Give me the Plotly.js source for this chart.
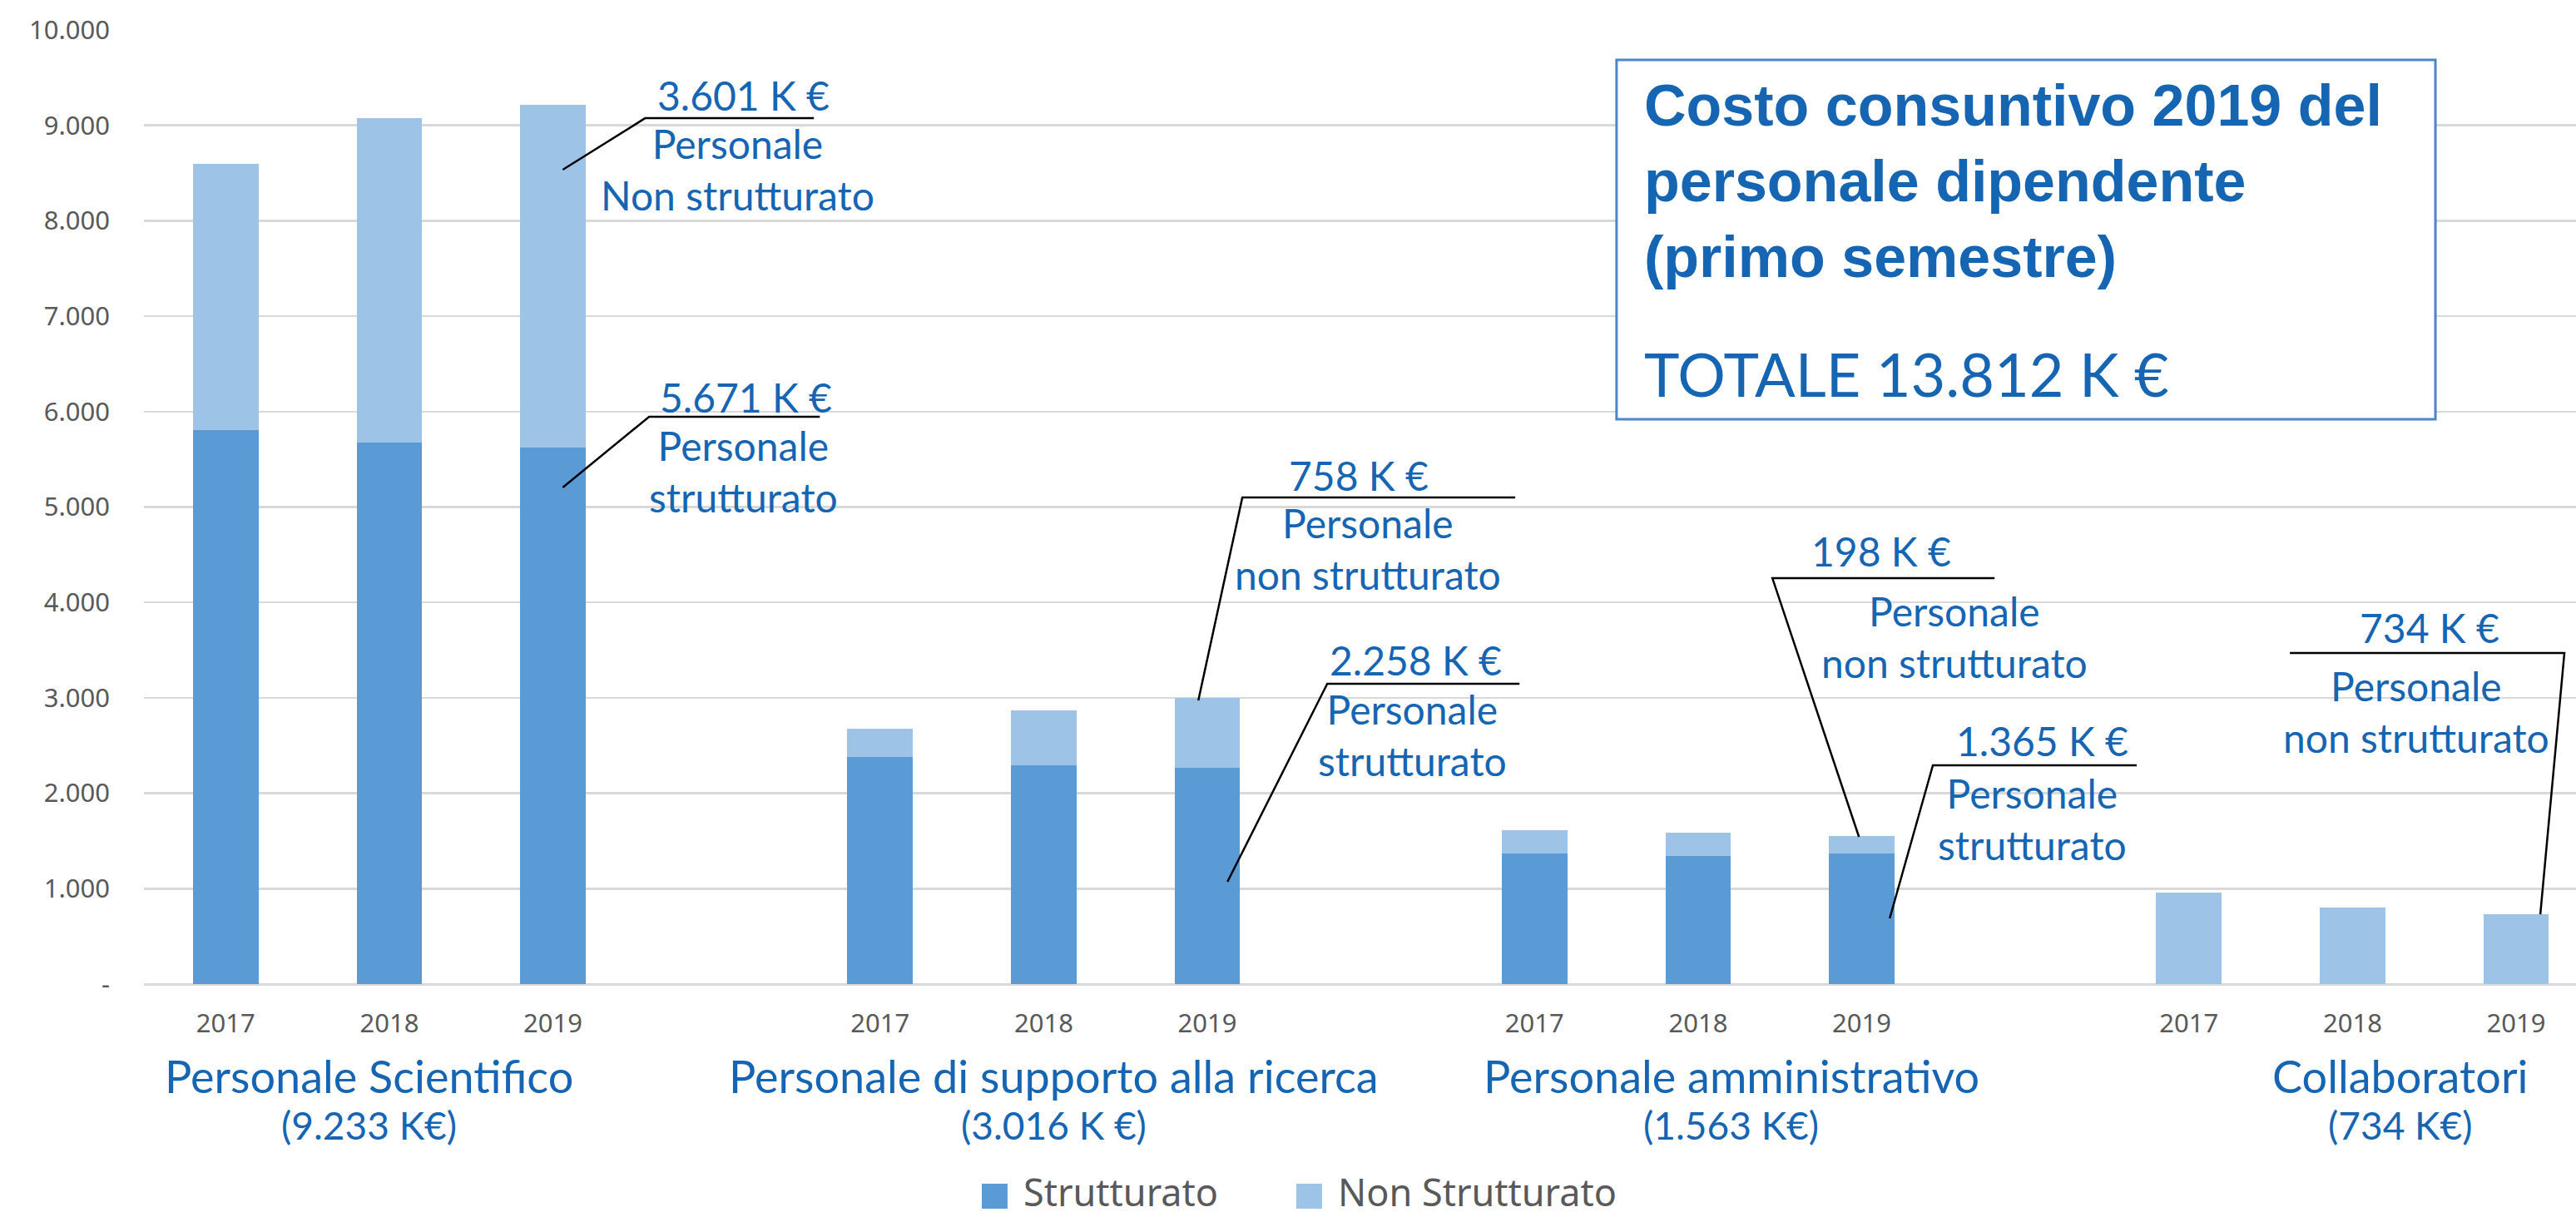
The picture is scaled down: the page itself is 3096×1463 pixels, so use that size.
<!DOCTYPE html>
<html>
<head>
<meta charset="utf-8">
<script src="https://cdn.plot.ly/plotly-3.0.1.min.js"></script>
<style>
    html, body { margin: 0; padding: 0; background: #ffffff; }
    #chart { width: 3096px; height: 1463px; }
</style>
</head>
<body>
<div id="chart"></div>
<script>
// --- dati (K €) ---------------------------------------------------------------
const years = ['2017', '2018', '2019'];
const groups = ['Personale Scientifico', 'Personale di supporto alla ricerca', 'Personale amministrativo', 'Collaboratori'];
const groupTotals = ['(9.233 K€)', '(3.016 K €)', '(1.563 K€)', '(734 K€)'];

// un valore per barra, gruppo dopo gruppo (2017, 2018, 2019)
const strutturato    = [5810, 5675, 5620,  2380, 2295, 2265,  1370, 1345, 1370,  0, 0, 0];
const nonStrutturato = [2785, 3405, 3595,   297,  575,  735,   245,  243,  183,  959, 802, 732];

const yTickValues = [0, 1000, 2000, 3000, 4000, 5000, 6000, 7000, 8000, 9000, 10000];
const yTickLabels = ['-', '1.000', '2.000', '3.000', '4.000', '5.000', '6.000', '7.000', '8.000', '9.000', '10.000'];

const seriesNames = ['Strutturato', 'Non Strutturato'];

// --- stile ----------------------------------------------------------------------
const colors = {
    strutturato: '#5b9bd5',
    nonStrutturato: '#9dc3e6',
    text: '#1565b3',
    axis: '#595959',
    grid: '#d9d9d9',
    box: '#4a86c8'
};
const seriesColors = [colors.strutturato, colors.nonStrutturato];

// richiami: testo del valore, testo descrittivo, sottolineatura e linea guida verso la barra
const callouts = [
    { value: '3.601 K €', body: 'Personale<br>Non strutturato', vx: 3.163, vy: 9320, bx: 3.128, by: 8544, ly: 9075, lx0: 2.563, lx1: 3.595, tx: 2.060, ty: 8535, from: 'left' },
    { value: '5.671 K €', body: 'Personale<br>strutturato', vx: 3.178, vy: 6155, bx: 3.163, by: 5379, ly: 5946, lx0: 2.588, lx1: 3.631, tx: 2.060, ty: 5205, from: 'left' },
    { value: '758 K €', body: 'Personale<br>non strutturato', vx: 6.926, vy: 5327, bx: 6.982, by: 4568, ly: 5100, lx0: 6.214, lx1: 7.882, tx: 5.945, ty: 2973, from: 'left' },
    { value: '2.258 K €', body: 'Personale<br>strutturato', vx: 7.272, vy: 3400, bx: 7.252, by: 2615, ly: 3147, lx0: 6.733, lx1: 7.908, tx: 6.123, ty: 1072, from: 'left' },
    { value: '198 K €', body: 'Personale<br>non strutturato', vx: 10.120, vy: 4542, bx: 10.568, by: 3644, ly: 4254, lx0: 9.454, lx1: 10.812, tx: 9.983, ty: 1543, from: 'left' },
    { value: '1.365 K €', body: 'Personale<br>strutturato', vx: 11.102, vy: 2546, bx: 11.041, by: 1735, ly: 2293, lx0: 10.435, lx1: 11.681, tx: 10.171, ty: 689, from: 'left' },
    { value: '734 K €', body: 'Personale<br>non strutturato', vx: 13.471, vy: 3740, bx: 13.390, by: 2851, ly: 3470, lx0: 12.617, lx1: 14.295, tx: 14.148, ty: 732, from: 'right' }
];

// spostamento orizzontale (px) delle etichette di gruppo rispetto al centro del gruppo
const groupLabelShift = [-24, 12, 40, 58];

// legenda in basso (coordinate paper): quadrato e testo di ogni voce
const legendBoxX = [[0.3445, 0.3551], [0.4738, 0.4844]];
const legendBoxY = [-0.2354, -0.2092];
const legendTextX = [0.3609, 0.4903];
const legendTextY = -0.2171;

// --- posizioni delle barre: una colonna vuota tra un gruppo e l'altro --------
const slotsPerGroup = years.length + 1;
const xPos = [];
const xText = [];
groups.forEach((g, gi) => {
    years.forEach((y, yi) => {
        xPos.push(gi * slotsPerGroup + yi);
        xText.push(y);
    });
});

const traces = [
    {
        type: 'bar',
        name: seriesNames[0],
        x: xPos,
        y: strutturato,
        width: 0.4,
        marker: { color: seriesColors[0] },
        hoverinfo: 'skip'
    },
    {
        type: 'bar',
        name: seriesNames[1],
        x: xPos,
        y: nonStrutturato,
        width: 0.4,
        marker: { color: seriesColors[1] },
        hoverinfo: 'skip'
    }
];

const annotations = [];
const shapes = [];

// etichette dei gruppi sotto l'asse
groups.forEach((g, gi) => {
    const center = gi * slotsPerGroup + (years.length - 1) / 2;
    annotations.push({
        xref: 'x', yref: 'paper', x: center, y: -0.096,
        xshift: groupLabelShift[gi],
        text: g, showarrow: false, xanchor: 'center', yanchor: 'middle',
        font: { family: 'Lato', size: 54, color: colors.text }
    });
    annotations.push({
        xref: 'x', yref: 'paper', x: center, y: -0.148,
        xshift: groupLabelShift[gi],
        text: groupTotals[gi], showarrow: false, xanchor: 'center', yanchor: 'middle',
        font: { family: 'Lato', size: 46, color: colors.text }
    });
});

// richiami con sottolineatura e linea guida
callouts.forEach(c => {
    annotations.push({
        xref: 'x', yref: 'y', x: c.vx, y: c.vy, text: c.value, showarrow: false,
        xanchor: 'center', yanchor: 'middle',
        font: { family: 'Lato', size: 48, color: colors.text }
    });
    annotations.push({
        xref: 'x', yref: 'y', x: c.bx, y: c.by, text: c.body, showarrow: false,
        xanchor: 'center', yanchor: 'middle',
        font: { family: 'Lato', size: 48, color: colors.text }
    });
    const start = c.from === 'left' ? c.lx0 : c.lx1;
    const other = c.from === 'left' ? c.lx1 : c.lx0;
    shapes.push({
        type: 'path', xref: 'x', yref: 'y',
        path: `M${other},${c.ly} L${start},${c.ly} L${c.tx},${c.ty}`,
        line: { color: '#000000', width: 2.5 }
    });
});

// legenda: quadrato colorato + nome della serie
seriesNames.forEach((name, i) => {
    shapes.push({
        type: 'rect', xref: 'paper', yref: 'paper',
        x0: legendBoxX[i][0], x1: legendBoxX[i][1], y0: legendBoxY[0], y1: legendBoxY[1],
        fillcolor: seriesColors[i], line: { width: 0 }
    });
    annotations.push({
        xref: 'paper', yref: 'paper', x: legendTextX[i], y: legendTextY,
        text: name, showarrow: false, xanchor: 'left', yanchor: 'middle',
        font: { family: 'Noto Sans, sans-serif', size: 45, color: colors.axis }
    });
});

// riquadro con il totale
shapes.push({
    type: 'rect', xref: 'paper', yref: 'paper',
    x0: 0.6055, x1: 0.9422, y0: 0.592, y1: 0.9686,
    fillcolor: '#ffffff', line: { color: colors.box, width: 3 },
    layer: 'above'
});
annotations.push({
    xref: 'paper', yref: 'paper', x: 0.6161, y: 0.8413,
    text: '<b>Costo consuntivo 2019 del<br>personale dipendente<br>(primo semestre)</b>',
    showarrow: false, xanchor: 'left', yanchor: 'middle', align: 'left',
    font: { family: 'Liberation Sans, Arial, sans-serif', size: 70, color: colors.text }
});
annotations.push({
    xref: 'paper', yref: 'paper', x: 0.6161, y: 0.6400,
    text: 'TOTALE 13.812 K €',
    showarrow: false, xanchor: 'left', yanchor: 'middle', align: 'left',
    font: { family: 'Lato', size: 72, color: colors.text }
});

const layout = {
    width: 3096,
    height: 1463,
    paper_bgcolor: '#ffffff',
    plot_bgcolor: '#ffffff',
    barmode: 'stack',
    showlegend: false,
    margin: { l: 173, r: 0, t: 36, b: 280, pad: 0 },
    font: { family: 'Noto Sans, sans-serif', color: colors.axis },
    xaxis: {
        type: 'linear',
        range: [-0.5, 14.366],
        tickvals: xPos,
        ticktext: xText,
        showgrid: false,
        zeroline: false,
        showline: false,
        automargin: false,
        ticks: '',
        ticklabelstandoff: 26,
        tickfont: { family: 'Noto Sans, sans-serif', size: 31, color: colors.axis }
    },
    yaxis: {
        range: [0, 10000],
        tickvals: yTickValues,
        ticktext: yTickLabels,
        showgrid: true,
        gridcolor: colors.grid,
        gridwidth: 2.5,
        zeroline: true,
        zerolinecolor: colors.grid,
        zerolinewidth: 3,
        showline: false,
        automargin: false,
        ticks: '',
        ticklabelstandoff: 40,
        tickfont: { family: 'Noto Sans, sans-serif', size: 31, color: colors.axis }
    },
    annotations: annotations,
    shapes: shapes
};

const config = { staticPlot: true, displayModeBar: false };

Plotly.newPlot('chart', traces, layout, config);
</script>
</body>
</html>
